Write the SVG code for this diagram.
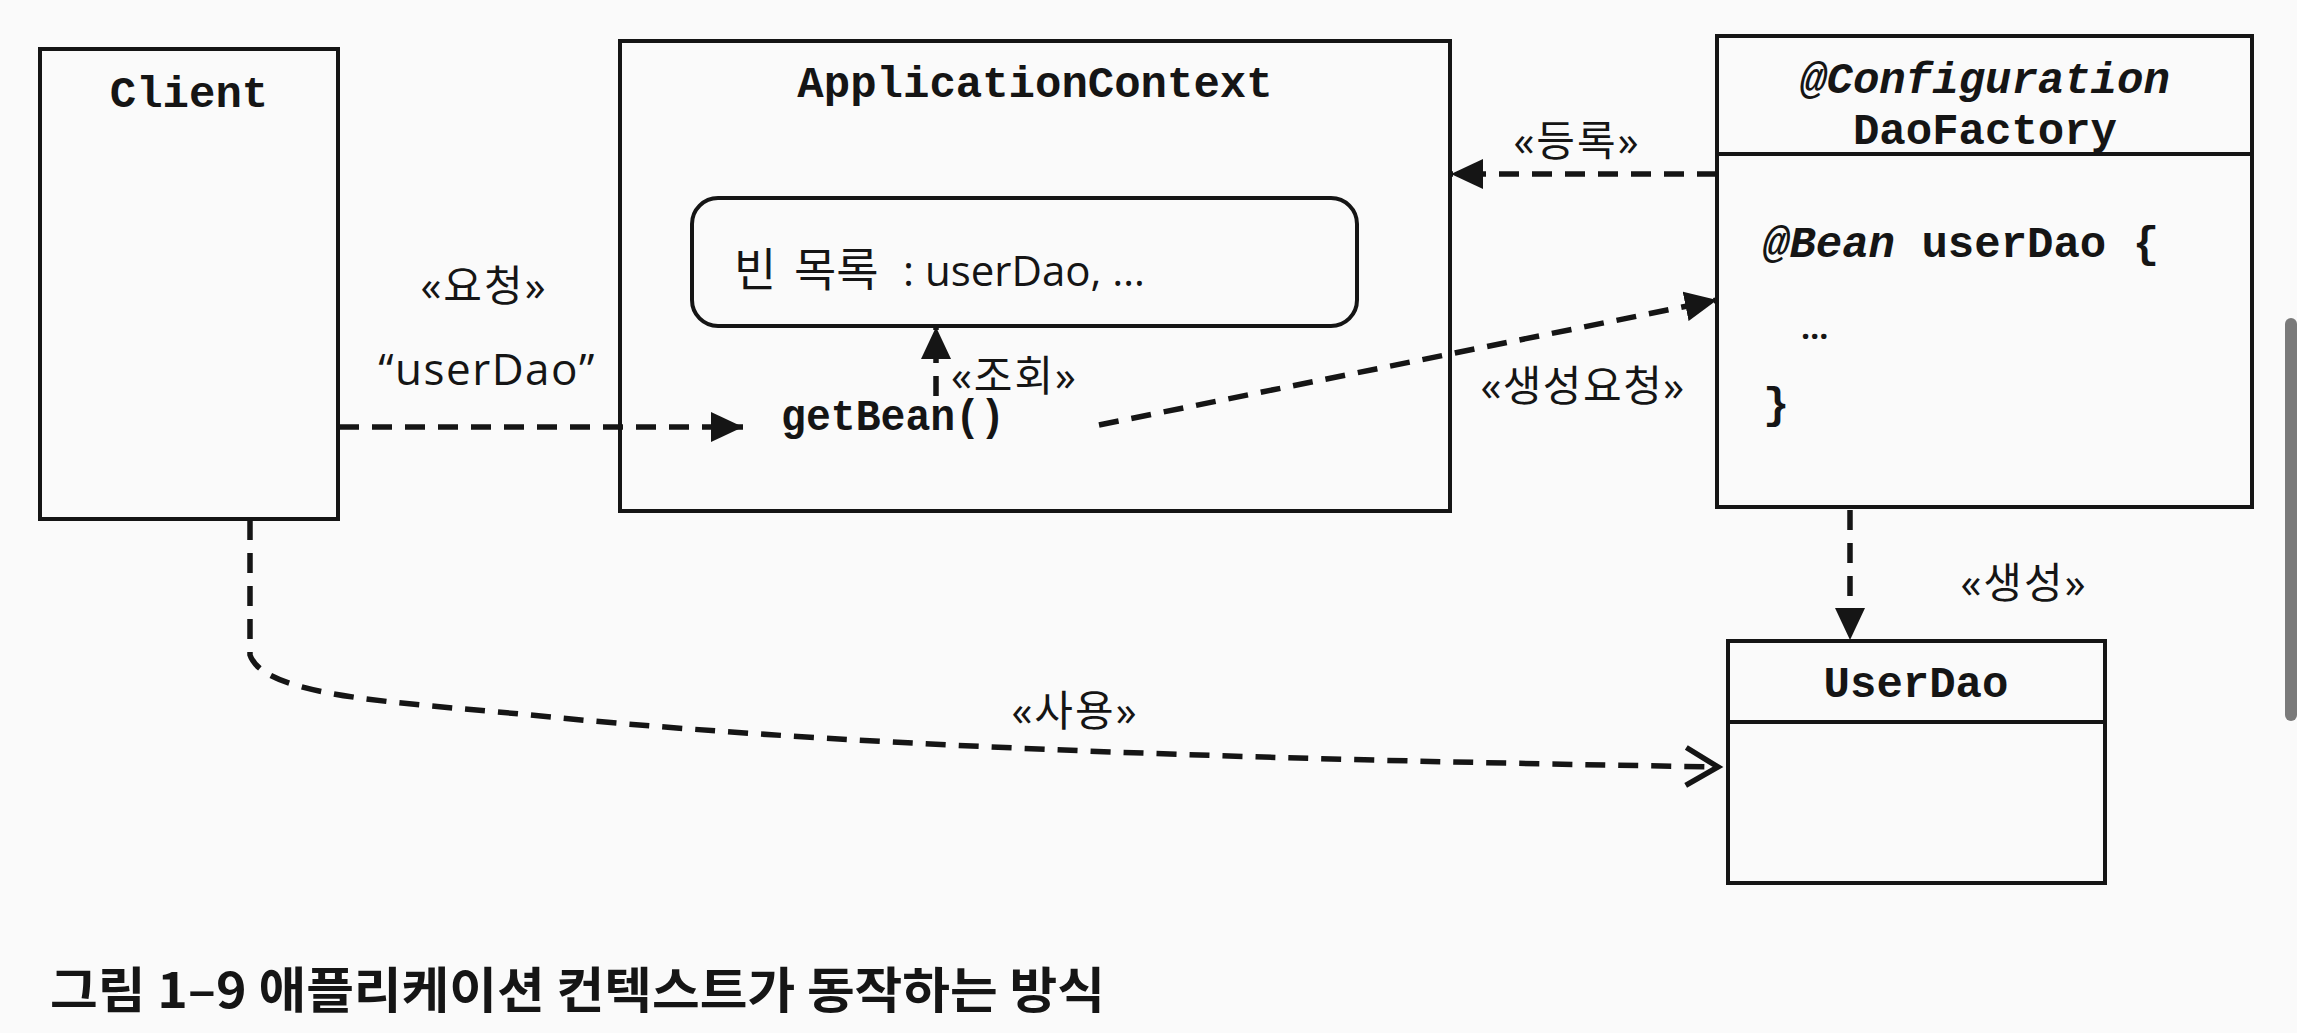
<svg xmlns="http://www.w3.org/2000/svg" width="2297" height="1033" viewBox="0 0 2297 1033">
  <style>
    .box { fill: none; stroke: #151515; stroke-width: 4; }
    .mono { font-family: "Liberation Mono", "DejaVu Sans Mono", monospace; font-weight: bold; font-size: 44px; fill: #151515; }
    .it { font-style: italic; }
    .lbl { font-family: "Open Sans", "Noto Sans CJK KR", sans-serif; font-size: 42px; letter-spacing: 2px; fill: #151515; }
    .conn { fill: none; stroke: #151515; stroke-width: 5.5; stroke-dasharray: 20 13; }
    .cap { font-family: "Noto Sans CJK KR", sans-serif; font-weight: bold; font-size: 49px; fill: #151515; }
  </style>
  <defs>
    <marker id="tri" markerUnits="userSpaceOnUse" markerWidth="32" markerHeight="30" viewBox="0 0 32 30" refX="32" refY="15" orient="auto">
      <path d="M0,0 L32,15 L0,30 Z" fill="#151515"/>
    </marker>
    <marker id="open" markerUnits="userSpaceOnUse" markerWidth="44" markerHeight="48" viewBox="-6 -5 44 48" refX="32" refY="19" orient="auto">
      <path d="M0,0 L32,19 L0,38" fill="none" stroke="#151515" stroke-width="5.5"/>
    </marker>
  </defs>
  <rect x="0" y="0" width="2297" height="1033" fill="#fafafa"/>

  <g id="client">
    <rect class="box" x="40" y="49" width="298" height="470"/>
    <text class="mono" x="189" y="107" text-anchor="middle">Client</text>
  </g>

  <g id="applicationContext">
    <rect class="box" x="620" y="41" width="830" height="470"/>
    <text class="mono" x="1035" y="97" text-anchor="middle">ApplicationContext</text>
    <text class="mono" x="781" y="430" textLength="224" lengthAdjust="spacingAndGlyphs">getBean()</text>
  </g>

  <g id="beanList">
    <rect class="box" x="692" y="198" width="665" height="128" rx="26" ry="26"/>
    <text class="lbl" y="286" style="letter-spacing:0">
      <tspan x="734" style="font-size:46px">빈</tspan><tspan x="794" style="font-size:46px">목록</tspan><tspan x="903">: userDao, …</tspan>
    </text>
  </g>

  <g id="daoFactory">
    <rect class="box" x="1717" y="36" width="535" height="471"/>
    <line class="box" x1="1717" y1="154" x2="2252" y2="154"/>
    <text class="mono it" x="1985" y="93" text-anchor="middle">@Configuration</text>
    <text class="mono" x="1985" y="144" text-anchor="middle">DaoFactory</text>
    <text class="mono" x="1763" y="257"><tspan class="it">@Bean</tspan> userDao {</text>
    <text class="lbl" x="1801" y="339" style="font-size:32px;font-weight:bold;letter-spacing:0">…</text>
    <text class="mono" x="1763" y="418">}</text>
  </g>

  <g id="userDao">
    <rect class="box" x="1728" y="641" width="377" height="242"/>
    <line class="box" x1="1728" y1="722" x2="2105" y2="722"/>
    <text class="mono" x="1916" y="697" text-anchor="middle">UserDao</text>
  </g>

  <g id="connectors">
    <path class="conn" d="M339,427 L743,427" marker-end="url(#tri)"/>
    <path class="conn" d="M936,396 L936,327" marker-end="url(#tri)"/>
    <path class="conn" d="M1099,425 L1717,300" marker-end="url(#tri)"/>
    <path class="conn" d="M1717,174 L1451,174" marker-end="url(#tri)"/>
    <path class="conn" d="M1850,510 L1850,640" marker-end="url(#tri)"/>
    <path class="conn" d="M250,520 L250,655 C265,700 420,703 560,718 C900,750 1300,760 1718,767" marker-end="url(#open)"/>
  </g>

  <g id="labels">
    <text class="lbl" x="484" y="301" text-anchor="middle">«요청»</text>
    <text class="lbl" x="487" y="385" text-anchor="middle" style="font-size:44px;letter-spacing:1.5px">“userDao”</text>
    <text class="lbl" x="951" y="391">«조회»</text>
    <text class="lbl" x="1577" y="156" text-anchor="middle">«등록»</text>
    <text class="lbl" x="1583" y="401" text-anchor="middle" style="letter-spacing:1.5px">«생성요청»</text>
    <text class="lbl" x="2024" y="598" text-anchor="middle">«생성»</text>
    <text class="lbl" x="1075" y="726" text-anchor="middle">«사용»</text>
  </g>

  <text class="cap" x="50" y="1008" textLength="1055" lengthAdjust="spacingAndGlyphs">그림 1–9 애플리케이션 컨텍스트가 동작하는 방식</text>
  <rect x="2285" y="318" width="12" height="403" rx="6" fill="#7a7a7a"/>
</svg>
